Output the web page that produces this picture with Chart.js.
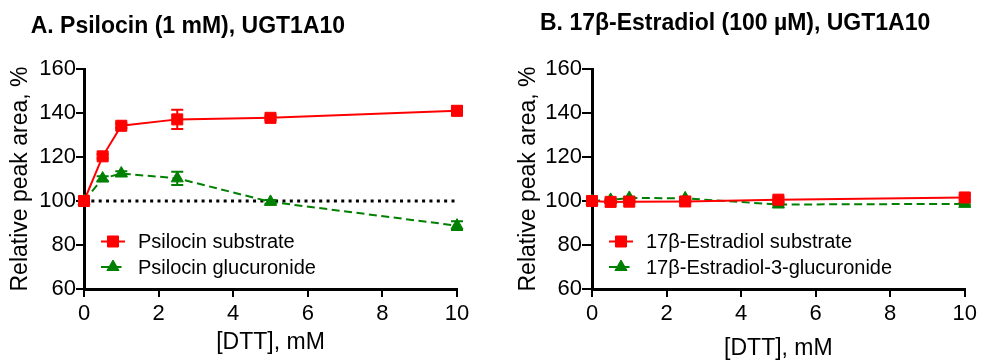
<!DOCTYPE html>
<html><head><meta charset="utf-8">
<script src="https://cdn.jsdelivr.net/npm/chart.js@4.4.1/dist/chart.umd.min.js"></script>
<style>
html,body{margin:0;padding:0;background:#fff;}
#wrap{position:relative;width:981px;height:360px;overflow:hidden;}
.panel{position:absolute;top:0;height:360px;}
</style></head><body>
<div id="wrap">
<div class="panel" style="left:0;width:490px"><canvas id="cA" width="490" height="360"></canvas></div>
<div class="panel" style="left:490px;width:491px"><canvas id="cB" width="491" height="360"></canvas></div>
</div>
<script>
// ---- data ----
const dttConc = [0, 0.5, 1, 2.5, 5, 10];
const xTicks = [0, 2, 4, 6, 8, 10];
const yTicks = [60, 80, 100, 120, 140, 160];
const xTitle = '[DTT], mM';
const yTitle = 'Relative peak area, %';

const titleA = 'A. Psilocin (1 mM), UGT1A10';
const labelsA = ['Psilocin substrate', 'Psilocin glucuronide'];
const psilocinSubstrate = [100, 120.3, 134.2, 137.1, 137.8, 141.0];
const psilocinSubstrateErr = [0, 1, 1, 4.4, 1, 2];
const psilocinGlucuronide = [100, 110.2, 112.5, 110.3, 99.6, 88.8];
const psilocinGlucuronideErr = [0, 1, 1, 3, 0.8, 2];
const baselineX = [0, 10];
const baselineY = [100, 100];

const titleB = 'B. 17β-Estradiol (100 µM), UGT1A10';
const labelsB = ['17β-Estradiol substrate', '17β-Estradiol-3-glucuronide'];
const estradiolSubstrate = [100, 99.6, 99.7, 99.8, 100.6, 101.6];
const estradiolSubstrateErr = [0, 0.5, 0.5, 0.5, 1, 1];
const estradiolGlucuronide = [100, 100.5, 101.4, 101.2, 98.4, 98.7];
const estradiolGlucuronideErr = [0, 0.5, 0.5, 0.5, 0.5, 0.5];

// ---- styling ----
const FONT = "'Liberation Sans', Arial, Helvetica, sans-serif";
Chart.defaults.font.family = FONT;
Chart.defaults.color = '#000';
const RED = '#ff0000';
const GREEN = '#008000';

const pts = (xs, ys) => xs.map((x, i) => ({x: x, y: ys[i]}));

const errorBars = {
  id: 'errorBars',
  afterDatasetDraw(chart, args) {
    const ds = chart.data.datasets[args.index];
    if (!ds.errors) return;
    const ctx = chart.ctx, ys = chart.scales.y;
    ctx.save();
    ctx.strokeStyle = ds.borderColor;
    ctx.lineWidth = 2;
    ctx.setLineDash([]);
    args.meta.data.forEach((el, i) => {
      const e = ds.errors[i];
      if (!e) return;
      const v = ds.data[i].y;
      const t = ys.getPixelForValue(v + e), b = ys.getPixelForValue(v - e);
      ctx.beginPath();
      ctx.moveTo(el.x, t); ctx.lineTo(el.x, b);
      ctx.moveTo(el.x - 6, t); ctx.lineTo(el.x + 6, t);
      ctx.moveTo(el.x - 6, b); ctx.lineTo(el.x + 6, b);
      ctx.stroke();
    });
    ctx.restore();
  }
};

const panelTitle = {
  id: 'panelTitle',
  afterDraw(chart, args, opts) {
    const ctx = chart.ctx;
    ctx.save();
    ctx.font = 'bold 23px ' + FONT;
    ctx.fillStyle = '#000';
    ctx.textBaseline = 'alphabetic';
    ctx.textAlign = 'left';
    ctx.fillText(opts.text, chart.chartArea.left + opts.dx, opts.y);
    ctx.restore();
  }
};

const innerLegend = {
  id: 'innerLegend',
  afterDraw(chart) {
    const ctx = chart.ctx, ca = chart.chartArea;
    const items = chart.data.datasets.filter(d => d.inLegend);
    const rowY = [ca.bottom - 47.5, ca.bottom - 22];
    ctx.save();
    items.forEach((ds, i) => {
      const y = rowY[i];
      const x0 = ca.left + 17, x1 = ca.left + 41, xm = ca.left + 29;
      ctx.strokeStyle = ds.borderColor;
      ctx.lineWidth = ds.borderWidth;
      ctx.setLineDash(ds.borderDash || []);
      ctx.beginPath(); ctx.moveTo(x0, y); ctx.lineTo(x1, y); ctx.stroke();
      ctx.setLineDash([]);
      ctx.fillStyle = ds.pointBackgroundColor;
      ctx.strokeStyle = ds.pointBorderColor;
      ctx.lineWidth = ds.pointBorderWidth;
      Chart.helpers.drawPoint(ctx, {pointStyle: ds.pointStyle, radius: ds.pointRadius, borderWidth: ds.pointBorderWidth, rotation: 0}, xm, y);
      ctx.fillStyle = '#000';
      ctx.font = '20px ' + FONT;
      ctx.textBaseline = 'middle';
      ctx.textAlign = 'left';
      ctx.fillText(ds.label, ca.left + 54, y + 1);
    });
    ctx.restore();
  }
};

function seriesSet(labels, sub, subErr, glu, gluErr, withBaseline) {
  const sets = [
    {label: labels[0], inLegend: true, data: pts(dttConc, sub), errors: subErr,
     borderColor: RED, backgroundColor: RED, borderWidth: 2,
     pointStyle: 'rect', pointRadius: 7.8, pointHoverRadius: 7.8, pointBackgroundColor: RED, pointBorderColor: RED, pointBorderWidth: 1,
     clip: false},
    {label: labels[1], inLegend: true, data: pts(dttConc, glu), errors: gluErr,
     borderColor: GREEN, backgroundColor: GREEN, borderWidth: 2, borderDash: [8, 4.5],
     pointStyle: 'triangle', pointRadius: 7, pointHoverRadius: 7, pointBackgroundColor: GREEN, pointBorderColor: GREEN, pointBorderWidth: 1,
     clip: false}
  ];
  if (withBaseline) {
    sets.push({label: 'baseline', inLegend: false, data: pts(baselineX, baselineY),
      borderColor: '#000', borderWidth: 3, borderDash: [3, 4.35], borderCapStyle: 'butt',
      pointRadius: 0, clip: false});
  }
  return sets;
}

function makeScales(cfg) {
  return {
    x: {
      type: 'linear', min: 0, max: 10,
      afterBuildTicks: s => { s.ticks = xTicks.map(v => ({value: v})); },
      ticks: {font: {size: 22}, color: '#000', padding: 4, maxRotation: 0, autoSkip: false},
      grid: {display: true, drawOnChartArea: false, drawTicks: true, tickLength: 8, color: '#000', lineWidth: 2},
      border: {display: true, color: '#000', width: 3},
      title: {display: true, text: xTitle, color: '#000', font: {size: 23, lineHeight: 1}, padding: {top: 0, bottom: 0}},
      afterFit: s => { s.height = cfg.xH; }
    },
    y: {
      type: 'linear', min: 60, max: 160,
      afterBuildTicks: s => { s.ticks = yTicks.map(v => ({value: v})); },
      ticks: {font: {size: 22}, color: '#000', padding: 0, autoSkip: false},
      grid: {display: true, drawOnChartArea: false, drawTicks: true, tickLength: cfg.yTick, color: '#000', lineWidth: 2},
      border: {display: true, color: '#000', width: 3},
      title: {display: true, text: yTitle, color: '#000', font: {size: 23, lineHeight: 1.2}, padding: {top: 0, bottom: 0}},
      afterFit: s => { s.width = 77; }
    }
  };
}

function makeChart(id, datasets, cfg) {
  return new Chart(document.getElementById(id), {
    type: 'line',
    data: {datasets: datasets},
    options: {
      responsive: false, animation: false,
      layout: {padding: cfg.pad},
      scales: makeScales(cfg),
      plugins: {
        legend: {display: false}, tooltip: {enabled: false}, title: {display: false},
        panelTitle: {text: cfg.title, dx: cfg.titleDx, y: cfg.titleY}
      }
    },
    plugins: [errorBars, panelTitle, innerLegend]
  });
}

makeChart('cA', seriesSet(labelsA, psilocinSubstrate, psilocinSubstrateErr, psilocinGlucuronide, psilocinGlucuronideErr, true),
  {pad: {left: 7, right: 33, top: 69, bottom: 6}, xH: 65, yTick: 8, title: titleA, titleDx: -53.3, titleY: 33});
makeChart('cB', seriesSet(labelsB, estradiolSubstrate, estradiolSubstrateErr, estradiolGlucuronide, estradiolGlucuronideErr, false),
  {pad: {left: 25, right: 15, top: 69, bottom: 0}, xH: 71, yTick: 10, title: titleB, titleDx: -52, titleY: 30});
</script>
</body></html>
